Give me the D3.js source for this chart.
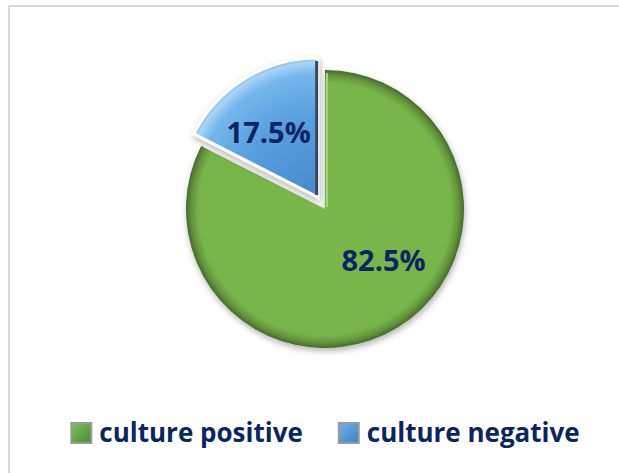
<!DOCTYPE html>
<html>
<head>
<meta charset="utf-8">
<script src="https://cdn.jsdelivr.net/npm/d3@7"></script>
<style>
  body { margin: 0; background: #fff; }
  svg { display: block; }
</style>
</head>
<body>
<svg width="619" height="473"></svg>
<script>
// chart data
var categories = ["culture positive", "culture negative"]
var values = [82.5, 17.5]
var labels = ["82.5%", "17.5%"]

var textColor = "#0b2463"
var font = "'Open Sans', Lato, sans-serif"

var svg = d3.select("svg")
var W = 619, H = 473
var cx = 325, cy = 209, R = 139
var explode = [0, 14]

// chart area frame
svg.append("rect")
  .attr("x", 9).attr("y", 6)
  .attr("width", W + 20).attr("height", H + 20)
  .attr("fill", "#fff")
  .attr("stroke", "#d9d9d9").attr("stroke-width", 2)

var defs = svg.append("defs")
var shadow = defs.append("filter").attr("id", "shadow")
  .attr("x", "-20%").attr("y", "-20%").attr("width", "140%").attr("height", "140%")
shadow.append("feDropShadow")
  .attr("dx", 1).attr("dy", 3).attr("stdDeviation", 3)
  .attr("flood-color", "#000").attr("flood-opacity", 0.3)

// green: flat with darker rim
var g0 = defs.append("radialGradient").attr("id", "grad0")
  .attr("gradientUnits", "userSpaceOnUse")
  .attr("cx", 0).attr("cy", 0).attr("r", R)
g0.append("stop").attr("offset", "0%").attr("stop-color", "#7ab84c")
g0.append("stop").attr("offset", "91%").attr("stop-color", "#77b449")
g0.append("stop").attr("offset", "96%").attr("stop-color", "#64953d")
g0.append("stop").attr("offset", "100%").attr("stop-color", "#46692e")

// blue: lighter toward the arc
var g1 = defs.append("radialGradient").attr("id", "grad1")
  .attr("gradientUnits", "userSpaceOnUse")
  .attr("cx", 0).attr("cy", 0).attr("r", R)
g1.append("stop").attr("offset", "0%").attr("stop-color", "#4689cc")
g1.append("stop").attr("offset", "60%").attr("stop-color", "#5aa0e0")
g1.append("stop").attr("offset", "88%").attr("stop-color", "#74b6ec")
g1.append("stop").attr("offset", "97%").attr("stop-color", "#a9d5f6")
g1.append("stop").attr("offset", "100%").attr("stop-color", "#7fb4de")

var pie = d3.pie().sort(null).value(d => d)
var arcs = pie(values)
var arc = d3.arc().innerRadius(0).outerRadius(R)

function mid(d) { return (d.startAngle + d.endAngle) / 2 }
function offset(d, i) {
  return [cx + explode[i] * Math.sin(mid(d)), cy - explode[i] * Math.cos(mid(d))]
}

var slices = svg.selectAll("g.slice")
  .data(arcs)
  .enter()
  .append("g")
  .attr("class", "slice")
  .attr("transform", (d, i) => "translate(" + offset(d, i) + ")")

slices.append("path")
  .attr("d", arc)
  .attr("fill", (d, i) => "url(#grad" + i + ")")
  .attr("stroke", (d, i) => i == 1 ? "#fff" : "none")
  .attr("stroke-width", 3)
  .attr("filter", "url(#shadow)")

// dark bevel edge on the blue slice's right side
slices.filter((d, i) => i == 1)
  .append("line")
  .attr("x1", -1).attr("y1", -2)
  .attr("x2", d => (R - 3) * Math.sin(d.endAngle) - 1)
  .attr("y2", d => -(R - 3) * Math.cos(d.endAngle))
  .attr("stroke", "#3c4656").attr("stroke-width", 3)

// light bevel on green's straight edge
slices.filter((d, i) => i == 0)
  .append("line")
  .attr("x1", 2).attr("y1", -2)
  .attr("x2", 2).attr("y2", -R + 3)
  .attr("stroke", "#a4d47f").attr("stroke-width", 2)

// percentage labels
var labelR = [78, 81]
var labelShift = [-0.30, -0.10]
slices.append("text")
  .attr("x", (d, i) => labelR[i] * Math.sin(mid(d) + labelShift[i]))
  .attr("y", (d, i) => -labelR[i] * Math.cos(mid(d) + labelShift[i]))
  .attr("dy", "0.36em")
  .attr("text-anchor", "middle")
  .attr("font-family", font)
  .attr("font-weight", "bold")
  .attr("font-size", 29)
  .attr("fill", textColor)
  .text((d, i) => labels[i])

// legend
var legend = svg.append("g").attr("class", "legend")
var items = legend.selectAll("g")
  .data(categories)
  .enter()
  .append("g")

var sq = defs.selectAll("linearGradient.leg")
  .data(["#7cc254", "#6fb3ea"])
  .enter()
  .append("linearGradient")
  .attr("class", "leg")
  .attr("id", (d, i) => "leg" + i)
  .attr("x1", 0).attr("y1", 0).attr("x2", 1).attr("y2", 1)
sq.append("stop").attr("offset", "0%").attr("stop-color", d => d)
sq.append("stop").attr("offset", "100%").attr("stop-color", (d, i) => i == 0 ? "#4f8a34" : "#3f80c0")

items.append("rect")
  .attr("x", 1).attr("width", 20).attr("height", 20)
  .attr("y", -19)
  .attr("fill", (d, i) => "url(#leg" + i + ")")
  .attr("stroke", "#9a9a9a").attr("stroke-width", 2)

items.append("text")
  .attr("x", 29)
  .attr("font-family", font)
  .attr("font-weight", "bold")
  .attr("font-size", 26)
  .attr("fill", textColor)
  .text(d => d)

var xpos = 0
items.each(function(d, i) {
  var w = 29 + d3.select(this).select("text").node().getComputedTextLength()
  d3.select(this).attr("transform", "translate(" + xpos + ",0)")
  xpos += w + 35
})
var total = xpos - 35
legend.attr("transform", "translate(" + (cx - total / 2) + ",442)")
</script>
</body>
</html>
